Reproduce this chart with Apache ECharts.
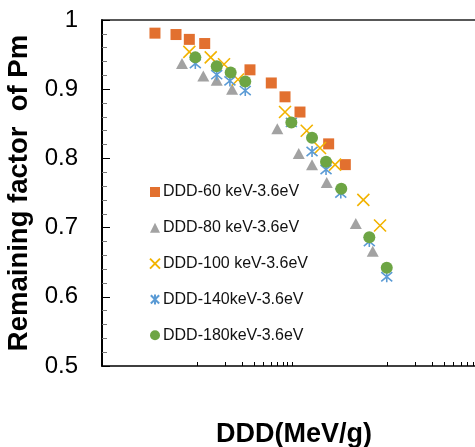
<!DOCTYPE html>
<html>
<head>
<meta charset="utf-8">
<script src="https://cdn.jsdelivr.net/npm/echarts@6/dist/echarts.min.js"></script>
<style>
html,body{margin:0;padding:0;background:#fff;overflow:hidden;}
#chart{width:475px;height:447px;}
</style>
</head>
<body>
<div id="chart"></div>
<script>
// Series names
const seriesNames = ['DDD-60 keV-3.6eV', 'DDD-80 keV-3.6eV', 'DDD-100 keV-3.6eV', 'DDD-140keV-3.6eV', 'DDD-180keV-3.6eV'];

// DDD (MeV/g) values and remaining factor values
const ddd60X = [3.61e8, 6.01e8, 8.30e8, 1.205e9, 3.61e9, 6.05e9, 8.44e9, 1.213e10, 2.43e10, 3.64e10];
const ddd60Y = [0.981, 0.979, 0.972, 0.966, 0.928, 0.909, 0.889, 0.867, 0.821, 0.791];

const ddd80X = [6.95e8, 1.165e9, 1.612e9, 2.34e9, 7.0e9, 1.177e10, 1.624e10, 2.32e10, 4.69e10, 7.07e10];
const ddd80Y = [0.937, 0.919, 0.913, 0.900, 0.843, 0.807, 0.791, 0.765, 0.706, 0.666];

const ddd100X = [8.30e8, 1.394e9, 1.924e9, 2.70e9, 8.44e9, 1.428e10, 1.971e10, 2.84e10, 5.63e10, 8.44e10];
const ddd100Y = [0.954, 0.946, 0.936, 0.914, 0.867, 0.840, 0.815, 0.791, 0.740, 0.703];

const ddd140X = [9.6e8, 1.612e9, 2.22e9, 3.22e9, 9.84e9, 1.624e10, 2.28e10, 3.26e10, 6.51e10, 9.93e10];
const ddd140Y = [0.937, 0.921, 0.912, 0.898, 0.852, 0.810, 0.784, 0.750, 0.680, 0.629];

const ddd180X = [9.6e8, 1.612e9, 2.26e9, 3.22e9, 9.84e9, 1.624e10, 2.28e10, 3.30e10, 6.51e10, 9.93e10];
const ddd180Y = [0.946, 0.933, 0.924, 0.911, 0.852, 0.830, 0.795, 0.756, 0.686, 0.642];

// Axis settings (the plot continues past the right edge of the picture)
const xMin = 1e8;
const xMax = 8.43e11;
const xTickValues = [1e9, 2e9, 3e9, 4e9, 5e9, 6e9, 7e9, 8e9, 9e9, 1e10,
                     1e11, 2e11, 3e11, 4e11, 5e11, 6e11, 7e11, 8e11];
const yMin = 0.5, yMax = 1, yInterval = 0.1;

const xTitle = 'DDD(MeV/g)';
const yTitle = 'Remaining factor  of Pm';

function pairs(xs, ys) { return xs.map((x, i) => [x, ys[i]]); }

const FONT = '"Liberation Sans", Arial, sans-serif';
const xPath = 'path://M0,0L10,10M10,0L0,10';
const starPath = 'path://M0,0L10,10M10,0L0,10M5,-1L5,11';

const chart = echarts.init(document.getElementById('chart'), null, {renderer: 'canvas'});
chart.setOption({
  animation: false,
  backgroundColor: '#ffffff',
  grid: {
    left: 102, top: 20, right: 0, bottom: 81, show: false,
    outerBoundsMode: 'none', containLabel: false
  },
  legend: {
    orient: 'vertical',
    left: 149, top: 184, padding: 0,
    itemWidth: 10, itemHeight: 10, itemGap: 19.8,
    textStyle: {fontFamily: FONT, fontSize: 16, color: '#111', padding: [0, 0, 0, -2]},
    data: seriesNames
  },
  xAxis: [{
    type: 'log', min: xMin, max: xMax, logBase: 10,
    name: xTitle, nameLocation: 'middle', nameGap: 55,
    nameTextStyle: {fontFamily: FONT, fontSize: 27, fontWeight: 'bold', color: '#000', padding: [0, 0, 0, 11]},
    axisLine: {show: true, lineStyle: {color: '#000', width: 1.5}},
    axisTick: {show: true, inside: true, length: 4, lineStyle: {color: '#000', width: 1}, customValues: xTickValues},
    axisLabel: {show: false},
    splitLine: {show: false},
    minorTick: {show: false}
  }, {
    type: 'value', position: 'top', min: 0, max: 1,
    axisLine: {show: true, onZero: false, lineStyle: {color: '#222', width: 1.5}},
    axisTick: {show: false}, axisLabel: {show: false}, splitLine: {show: false}
  }],
  yAxis: {
    type: 'value', min: yMin, max: yMax, interval: yInterval,
    name: yTitle, nameLocation: 'middle', nameGap: 58, nameRotate: 90,
    nameTextStyle: {fontFamily: FONT, fontSize: 27.5, fontWeight: 'bold', color: '#000'},
    axisLine: {show: true, lineStyle: {color: '#000', width: 2}},
    axisTick: {show: true, inside: true, length: 8, lineStyle: {color: '#000', width: 1}},
    minorTick: {show: true, splitNumber: 5, length: 5, lineStyle: {color: '#777', width: 1}},
    axisLabel: {fontFamily: FONT, fontSize: 24, color: '#000', margin: 24},
    splitLine: {show: false}
  },
  series: [
    {name: seriesNames[0], type: 'scatter', symbol: 'rect', symbolSize: 11,
     itemStyle: {color: '#E2702F', opacity: 1}, data: pairs(ddd60X, ddd60Y)},
    {name: seriesNames[1], type: 'scatter', symbol: 'triangle', symbolSize: [12, 11],
     itemStyle: {color: '#A2A2A2', opacity: 1}, data: pairs(ddd80X, ddd80Y)},
    {name: seriesNames[2], type: 'scatter', symbol: xPath, symbolSize: 12,
     itemStyle: {color: 'rgba(0,0,0,0)', borderColor: '#F2B300', borderWidth: 1.6, opacity: 1}, data: pairs(ddd100X, ddd100Y)},
    {name: seriesNames[3], type: 'scatter', symbol: starPath, symbolSize: 11,
     itemStyle: {color: 'rgba(0,0,0,0)', borderColor: '#5B9BD5', borderWidth: 1.6, opacity: 1}, data: pairs(ddd140X, ddd140Y)},
    {name: seriesNames[4], type: 'scatter', symbol: 'circle', symbolSize: 12,
     itemStyle: {color: '#6DA544', opacity: 1}, data: pairs(ddd180X, ddd180Y)}
  ]
});
</script>
</body>
</html>
